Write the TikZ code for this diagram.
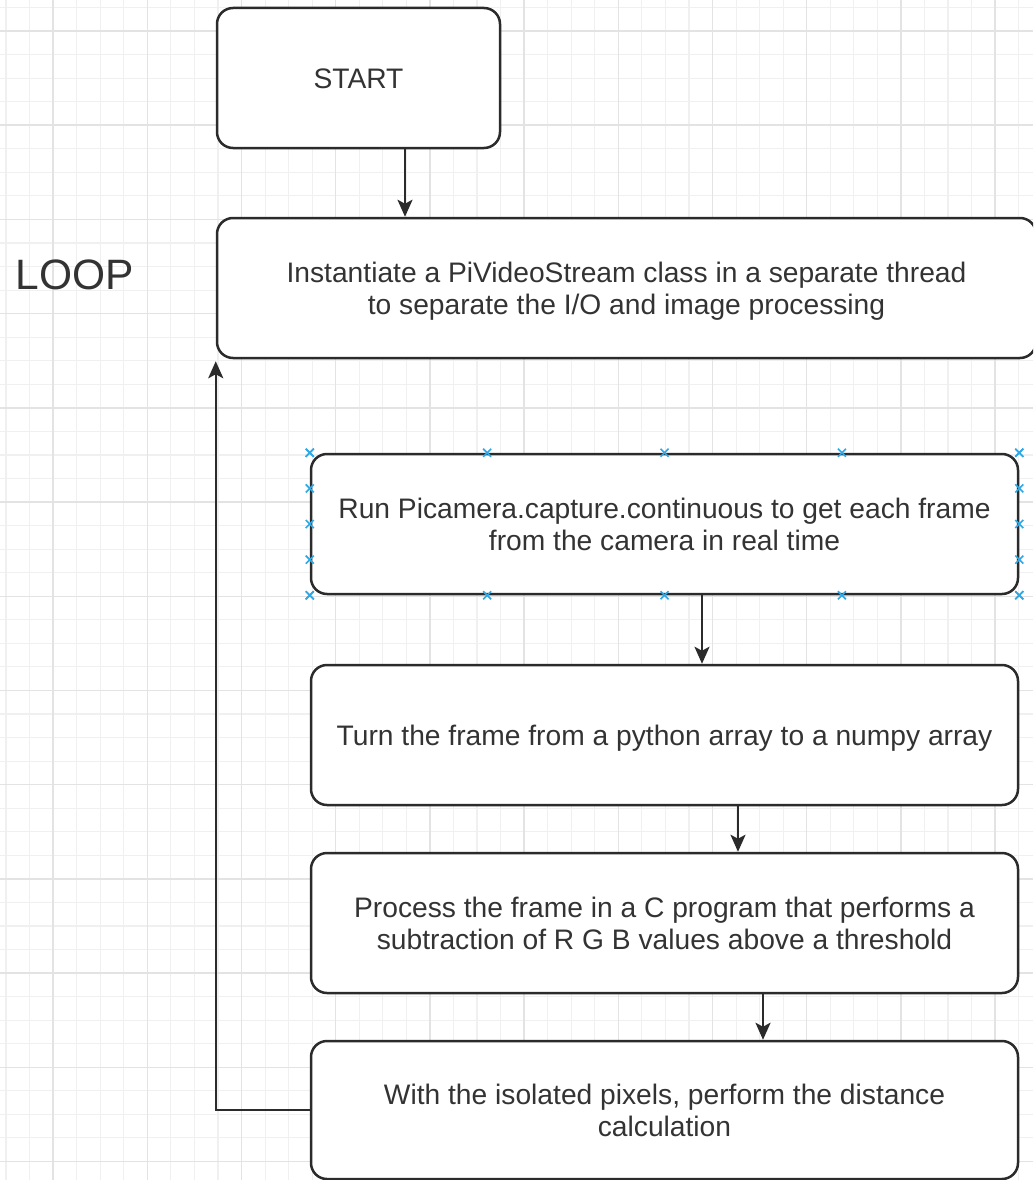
\documentclass[tikz,border=0pt]{standalone}
\usepackage{fontspec}
\setmainfont{Liberation Sans}
\usetikzlibrary{arrows.meta,calc}

\definecolor{gridminor}{HTML}{F0F0F0}
\definecolor{gridmajor}{HTML}{E3E3E3}
\definecolor{inkline}{HTML}{2B2B2B}
\definecolor{inktext}{HTML}{333333}
\definecolor{handle}{HTML}{2EA8E6}

% one text line of fixed height, so every line sits in the same line box
\newcommand{\linebox}{\rule[-5.7pt]{0pt}{32.5pt}}
\setlength{\lineskiplimit}{-2pt}

\tikzset{
  minorline/.style={draw=gridminor, line width=1.1pt},
  majorline/.style={draw=gridmajor, line width=1.4pt},
  procbox/.style={draw=inkline, line width=2.5pt, rounded corners=16pt,
    fill=white, rectangle, align=center, text=inktext,
    font=\fontsize{28.2}{32.5}\selectfont, inner sep=0pt},
  flow/.style={draw=inkline, line width=2.5pt,
    -{Stealth[length=17pt, width=15pt, inset=4pt]}},
  handlemark/.style={draw=handle, line width=1.6pt},
}

\begin{document}
\begin{tikzpicture}[x=1pt, y=-1pt]
  \useasboundingbox (0,0) rectangle (1033,1180);
  \begin{scope}
    \clip (0,0) rectangle (1033,1180);
    \fill[white] (0,0) rectangle (1033,1180);

    % background grid
    \foreach \i in {0,...,44} {
      \draw[minorline] ({6+23.55*\i},0) -- ({6+23.55*\i},1180);
    }
    \foreach \i in {0,...,50} {
      \draw[minorline] (0,{7.5+23.55*\i}) -- (1033,{7.5+23.55*\i});
    }
    \foreach \i in {0,...,11} {
      \draw[majorline] ({53+94.2*\i},0) -- ({53+94.2*\i},1180);
    }
    \foreach \i in {0,...,12} {
      \draw[majorline] (0,{31+94.2*\i}) -- (1033,{31+94.2*\i});
    }

    % side label
    \node[text=inktext, font=\fontsize{42.5}{50}\selectfont] (looplabel) at (75,275) {LOOP};

    % process steps
    \node[procbox, minimum width=283pt, minimum height=140pt] (start) at (358.5,78)
      {\linebox START};
    \node[procbox, minimum width=819pt, minimum height=140pt] (inst) at (626.5,288)
      {\linebox Instantiate a PiVideoStream class in a separate thread\\
       \linebox to separate the I/O and image processing};
    \node[procbox, minimum width=707pt, minimum height=140pt] (capture) at (664.5,524)
      {\linebox Run Picamera.capture.continuous to get each frame\\
       \linebox from the camera in real time};
    \node[procbox, minimum width=707pt, minimum height=140pt] (numpy) at (664.5,735)
      {\linebox Turn the frame from a python array to a numpy array};
    \node[procbox, minimum width=707pt, minimum height=140pt] (cprog) at (664.5,923)
      {\linebox Process the frame in a C program that performs a\\
       \linebox subtraction of R G B values above a threshold};
    \node[procbox, minimum width=707pt, minimum height=138pt] (dist) at (664.5,1110)
      {\linebox With the isolated pixels, perform the distance\\
       \linebox calculation};

    % connectors
    \draw[flow] ([xshift=46.5pt]start.south) -- ([xshift=46.5pt]start.south |- inst.north);
    \draw[flow] ([xshift=37.5pt]capture.south) -- ([xshift=37.5pt]capture.south |- numpy.north);
    \draw[flow] ([xshift=73.5pt]numpy.south) -- ([xshift=73.5pt]numpy.south |- cprog.north);
    \draw[flow] ([xshift=98.5pt]cprog.south) -- ([xshift=98.5pt]cprog.south |- dist.north);
    \draw[flow] (dist.west) -| ([yshift=-2pt]inst.south west);

    % selection handles around the capture step
    \foreach \f in {0,0.25,0.5,0.75,1} {
      \coordinate (ht) at ($(capture.north west)!\f!(capture.north east)$);
      \coordinate (hb) at ($(capture.south west)!\f!(capture.south east)$);
      \coordinate (hl) at ($(capture.north west)!\f!(capture.south west)$);
      \coordinate (hr) at ($(capture.north east)!\f!(capture.south east)$);
      \foreach \h in {ht,hb,hl,hr} {
        \draw[handlemark] ([shift={(-4pt,-4pt)}]\h) -- ([shift={(4pt,4pt)}]\h)
                          ([shift={(-4pt,4pt)}]\h) -- ([shift={(4pt,-4pt)}]\h);
      }
    }
  \end{scope}
\end{tikzpicture}
\end{document}
